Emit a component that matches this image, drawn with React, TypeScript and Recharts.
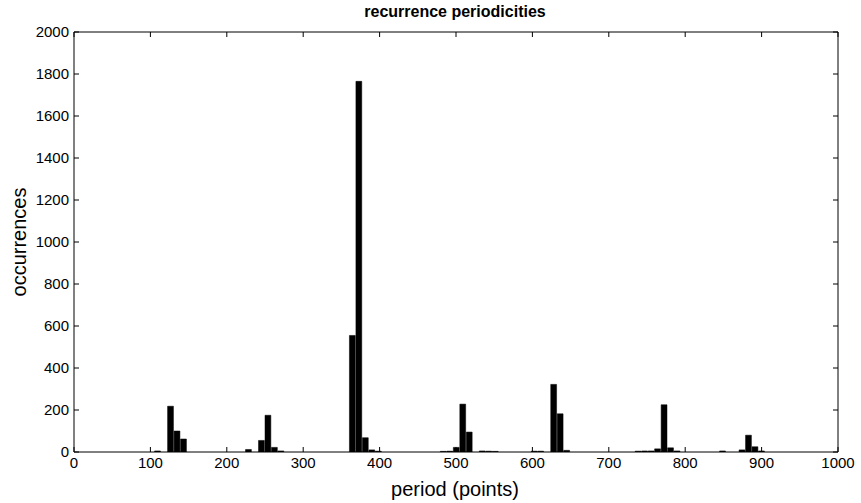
import React from 'react';
import { BarChart, Bar, XAxis, YAxis } from 'recharts';

// Histogram bin centers (period, points) and occurrence counts
const binCenters = [
  109.75, 126.75, 135.25, 143.75,
  228.75, 245.75, 254.25, 262.75, 271.25,
  364.75, 373.25, 381.75, 390.25, 398.75,
  483.75, 492.25, 500.75, 509.25, 517.75, 534.75, 543.25, 551.75,
  602.75, 611.25, 628.25, 636.75, 645.25,
  738.75, 747.25, 755.75, 764.25, 772.75, 781.25, 789.75,
  849.25, 874.75, 883.25, 891.75, 900.25,
];
const counts = [
  5, 218, 100, 62,
  12, 55, 175, 22, 5,
  555, 1765, 68, 10, 4,
  3, 4, 22, 228, 95, 5, 4, 3,
  4, 4, 322, 182, 8,
  4, 5, 5, 15, 225, 20, 5,
  5, 10, 80, 25, 5,
];
const xTicks = [0, 100, 200, 300, 400, 500, 600, 700, 800, 900, 1000];
const yTicks = [0, 200, 400, 600, 800, 1000, 1200, 1400, 1600, 1800, 2000];

const data = binCenters.map((p, i) => ({ period: p, count: counts[i] }));

const FONT = '"Liberation Sans", Arial, Helvetica, sans-serif';
const TL = 5;

const BottomTick = (props: any) => {
  const { x, y, payload } = props;
  return (
    <g>
      <line x1={x} x2={x} y1={y} y2={y - TL} stroke="#000" strokeWidth={1} />
      <text x={x} y={y + 16} textAnchor="middle" fontSize={15} fontFamily={FONT} fill="#000">
        {payload.value}
      </text>
    </g>
  );
};
const TopTick = (props: any) => {
  const { x, y } = props;
  return <line x1={x} x2={x} y1={y} y2={y + TL} stroke="#000" strokeWidth={1} />;
};
const LeftTick = (props: any) => {
  const { x, y, payload } = props;
  return (
    <g>
      <line x1={x} x2={x + TL} y1={y} y2={y} stroke="#000" strokeWidth={1} />
      <text x={x - 5} y={y + 5} textAnchor="end" fontSize={15} fontFamily={FONT} fill="#000">
        {payload.value}
      </text>
    </g>
  );
};
const RightTick = (props: any) => {
  const { x, y } = props;
  return <line x1={x} x2={x - TL} y1={y} y2={y} stroke="#000" strokeWidth={1} />;
};

export default function App() {
  return (
    <div style={{ position: 'absolute', left: 0, top: 0, width: 861, height: 503, background: '#fff' }}>
      <BarChart
        width={861}
        height={503}
        data={data}
        margin={{ top: 31, right: 22, bottom: 0, left: 0 }}
        barGap={0}
        barCategoryGap={0}
      >
        <XAxis
          xAxisId="b"
          dataKey="period"
          type="number"
          domain={[0, 1000]}
          ticks={xTicks}
          allowDataOverflow
          height={51}
          tickSize={0}
          tickMargin={0}
          tickLine={false}
          tick={<BottomTick />}
          axisLine={{ stroke: '#000', strokeWidth: 1 }}
          interval={0}
        />
        <XAxis
          xAxisId="t"
          orientation="top"
          dataKey="period"
          type="number"
          domain={[0, 1000]}
          ticks={xTicks}
          allowDataOverflow
          height={1}
          tickSize={0}
          tickMargin={0}
          tickLine={false}
          tick={<TopTick />}
          axisLine={{ stroke: '#000', strokeWidth: 1 }}
          interval={0}
        />
        <YAxis
          yAxisId="l"
          type="number"
          domain={[0, 2000]}
          ticks={yTicks}
          allowDataOverflow
          width={74}
          tickSize={0}
          tickMargin={0}
          tickLine={false}
          tick={<LeftTick />}
          axisLine={{ stroke: '#000', strokeWidth: 1 }}
          interval={0}
        />
        <YAxis
          yAxisId="r"
          orientation="right"
          type="number"
          domain={[0, 2000]}
          ticks={yTicks}
          allowDataOverflow
          width={1}
          tickSize={0}
          tickMargin={0}
          tickLine={false}
          tick={<RightTick />}
          axisLine={{ stroke: '#000', strokeWidth: 1 }}
          interval={0}
        />
        <Bar
          xAxisId="b"
          yAxisId="l"
          dataKey="count"
          fill="#000"
          stroke="#000"
          strokeWidth={0.5}
          barSize={6.5}
          isAnimationActive={false}
        />
      </BarChart>
      <div
        style={{
          position: 'absolute', left: 0, width: 910, top: 3, textAlign: 'center',
          fontFamily: FONT, fontWeight: 'bold', fontSize: 16, color: '#000',
        }}
      >
        recurrence periodicities
      </div>
      <div
        style={{
          position: 'absolute', left: 0, width: 910, top: 478, textAlign: 'center',
          fontFamily: FONT, fontSize: 20, color: '#000',
        }}
      >
        period (points)
      </div>
      <div
        style={{
          position: 'absolute', left: 19, top: 242, width: 0, height: 0,
        }}
      >
        <div
          style={{
            position: 'absolute', left: 0, top: 0, transform: 'translate(-50%, -50%) rotate(-90deg)',
            fontFamily: FONT, fontSize: 20, color: '#000', whiteSpace: 'nowrap',
          }}
        >
          occurrences
        </div>
      </div>
    </div>
  );
}
